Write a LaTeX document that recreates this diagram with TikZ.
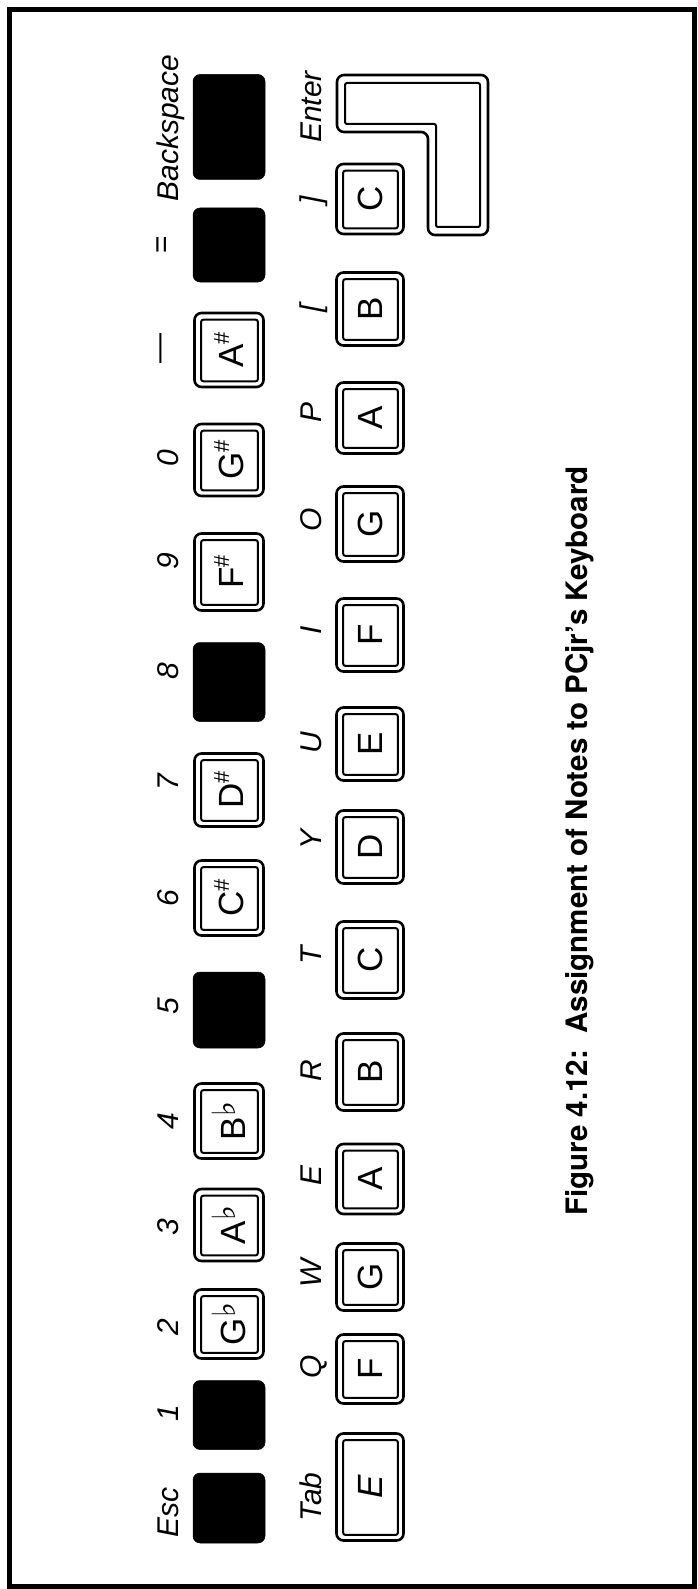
\documentclass[tikz,border=0pt]{standalone}
\usepackage{fontspec}
\newfontfamily\capfont{TeX Gyre Heros}
\newfontfamily\notefont{Liberation Sans}
\newfontfamily\symfont{DejaVu Sans}
\newcommand\sh{\raisebox{0.42em}{\fontsize{22}{22}\selectfont\#}}
\newcommand\fl{\raisebox{0.3em}{\symfont\fontsize{32}{32}\selectfont ♭}}
\newcommand\wk[6]{%
  \node[wkey, minimum width=#4pt, minimum height=#5pt] (#1) at (#2,#3) {};
  \draw[wkeyin] ([shift={(8,8)}]#1.north west) rectangle ([shift={(-7,-7)}]#1.south east);
  \node[note] (#1t) at (#1) {#6};}
\newcommand\bk[5]{%
  \node[bkey, minimum width=#4pt, minimum height=#5pt] (#1) at (#2,#3) {};}
\begin{document}
\begin{tikzpicture}[x=1pt,y=-1pt,
  outerframe/.style={draw, line width=5pt},
  bkey/.style={fill=black, draw=black, line width=0.5pt, rounded corners=7pt, inner sep=0pt},
  wkey/.style={draw, line width=2.6pt, rounded corners=7pt, inner sep=0pt},
  wkeyin/.style={draw, line width=2pt, rounded corners=2pt},
  note/.style={rotate=90, inner sep=0pt, font=\notefont\fontsize{35}{35}\selectfont},
  lab/.style={rotate=90, anchor=base, inner sep=0pt, font=\notefont\itshape\fontsize{30}{30}\selectfont},
  labc/.style={rotate=90, anchor=center, inner sep=0pt, font=\notefont\fontsize{30}{30}\selectfont},
  captext/.style={rotate=90, anchor=base, inner sep=0pt, font=\capfont\bfseries\fontsize{29.5}{29.5}\selectfont}]
\useasboundingbox (0,0) rectangle (697,1589);
\draw[outerframe] (9.5,10) rectangle (694,1586);

% top row keys
\bk{kBs}{229}{127}{72}{105}
\bk{kEq}{229}{245}{72}{74}
\wk{kMinus}{229}{350}{69}{74}{A\sh}
\wk{kZero}{229}{460}{69}{72}{G\sh}
\wk{kNine}{229}{572}{69}{77}{F\sh}
\bk{kEight}{229}{682}{72}{79}
\wk{kSeven}{229}{790}{69}{73}{D\sh}
\wk{kSix}{229}{898}{69}{75}{C\sh}
\bk{kFive}{229}{1010}{72}{76}
\wk{kFour}{229}{1121}{69}{75}{B\fl}
\wk{kThree}{229}{1225}{69}{72}{A\fl}
\wk{kTwo}{229}{1324}{69}{69}{G\fl}
\bk{kOne}{229}{1415}{72}{69}
\bk{kEsc}{229}{1508}{72}{70}

% second row keys
\wk{kRb}{370}{199}{67}{70}{C}
\wk{kLb}{370}{309}{67}{73}{B}
\wk{kP}{370}{418}{67}{71}{A}
\wk{kO}{370}{524}{67}{75}{G}
\wk{kI}{370}{635}{67}{73}{F}
\wk{kU}{370}{744}{67}{73}{E}
\wk{kY}{370}{847}{67}{73}{D}
\wk{kT}{370}{960}{67}{77}{C}
\wk{kR}{370}{1072}{67}{77}{B}
\wk{kE}{370}{1179}{67}{70}{A}
\wk{kW}{370}{1277}{67}{67}{G}
\wk{kQ}{370}{1369}{67}{69}{F}
\wk{kTab}{370}{1487}{67}{107}{\itshape E}

% Enter key
\draw[line width=2.6pt, rounded corners=7pt] (337,75) -- (488,75) -- (488,235) -- (428,235) -- (428,132) -- (337,132) -- cycle;
\draw[wkeyin] (345,83) -- (480,83) -- (480,227) -- (436,227) -- (436,124) -- (345,124) -- cycle;

% top row labels
\node[lab] (lBs) at (178,128) {Backspace};
\node[labc] (lEq) at (164,245) {=};
\node[labc] (lMinus) at (164,348) {—};
\node[lab] (lZero) at (178,458) {0};
\node[lab] (lNine) at (178,561) {9};
\node[lab] (lEight) at (178,671) {8};
\node[lab] (lSeven) at (178,782) {7};
\node[lab] (lSix) at (178,898) {6};
\node[lab] (lFive) at (178,1006) {5};
\node[lab] (lFour) at (178,1121) {4};
\node[lab] (lThree) at (178,1227) {3};
\node[lab] (lTwo) at (178,1327) {2};
\node[lab] (lOne) at (178,1413) {1};
\node[lab] (lEsc) at (178,1512) {Esc};

% second row labels
\node[lab] (lEnter) at (321,107) {Enter};
\node[lab] (lRb) at (321,200) {]};
\node[lab] (lLb) at (321,308) {[};
\node[lab] (lP) at (321,412) {P};
\node[lab] (lO) at (321,520) {O};
\node[lab] (lI) at (321,630) {I};
\node[lab] (lU) at (321,743) {U};
\node[lab] (lY) at (321,839) {Y};
\node[lab] (lT) at (321,955) {T};
\node[lab] (lR) at (321,1071) {R};
\node[lab] (lE) at (321,1175) {E};
\node[lab] (lW) at (321,1273) {W};
\node[lab] (lQ) at (321,1367) {Q};
\node[lab] (lTab) at (321,1497) {Tab};

% caption
\node[captext] (caption) at (587,841) {Figure 4.12:\ \ Assignment of Notes to PCjr’s Keyboard};
\end{tikzpicture}
\end{document}
